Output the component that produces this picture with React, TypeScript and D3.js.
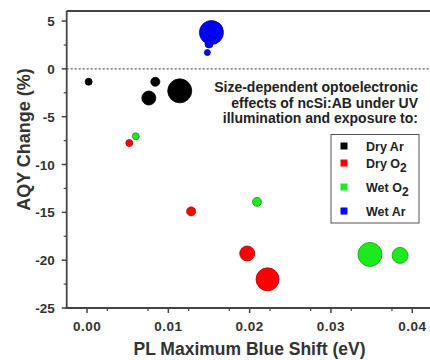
import React from "react";
import * as d3 from "d3";

// series: x = PL max blue shift (eV), y = AQY change (%), s = bubble size
const dryArX = [0.0002, 0.0084, 0.0076, 0.0114];
const dryArY = [-1.35, -1.35, -3.05, -2.3];
const dryArS = [3.5, 4.5, 7, 12];

const dryO2X = [0.0052, 0.0128, 0.0197, 0.0222];
const dryO2Y = [-7.75, -14.9, -19.3, -22.0];
const dryO2S = [3.5, 4.5, 7.5, 11.5];

const wetO2X = [0.006, 0.0209, 0.0348, 0.0385];
const wetO2Y = [-7.05, -13.9, -19.4, -19.5];
const wetO2S = [3.5, 4.5, 12, 8];

const wetArX = [0.0153, 0.0157, 0.015, 0.0148];
const wetArY = [3.8, 4.05, 2.6, 1.7];
const wetArS = [12, 8, 4, 3];

const legendNames = ["Dry Ar", "Dry O", "Wet O", "Wet Ar"];
const legendSubs = ["", "2", "2", ""];
const seriesColors = ["#000000", "#ff0000", "#1ee81e", "#0000ff"];
const seriesStroke = ["#000000", "#b00000", "#10a010", "#0000a0"];

const xTicks = [0, 0.01, 0.02, 0.03, 0.04];
const yTicks = [5, 0, -5, -10, -15, -20, -25];
const noteLines = [
  "Size-dependent optoelectronic",
  "effects of ncSi:AB under UV",
  "illumination and exposure to:",
];

const FONT = "'Liberation Sans', Arial, sans-serif";

export default function App() {
  const width = 430;
  const height = 360;

  const x = d3.scaleLinear().domain([-0.0025, 0.0425]).range([66.7, 432.6]);
  const y = d3.scaleLinear().domain([-25, 6.05]).range([308, 11]);
  const r = d3.scaleLinear().domain([0, 12]).range([0, 12]);

  const series = [
    { xs: dryArX, ys: dryArY, ss: dryArS },
    { xs: dryO2X, ys: dryO2Y, ss: dryO2S },
    { xs: wetO2X, ys: wetO2Y, ss: wetO2S },
    { xs: wetArX, ys: wetArY, ss: wetArS },
  ];

  const xMinor = d3.range(-0.0025, 0.0426, 0.005).map((v) => +v.toFixed(4));
  const xMinorOnly = xMinor.filter((v) => !xTicks.some((t) => Math.abs(t - v) < 1e-6) && v > -0.002);
  const yMinor = d3.range(-22.5, 6, 5);

  const [x0, x1] = x.range();
  const [y0, y1] = y.range();
  const axisColor = "#444";

  // legend rows
  const legendRowY = [146, 163, 187, 211];

  return (
    <div style={{ position: "absolute", left: 0, top: 0 }}>
      <svg width={width} height={height} style={{ display: "block", background: "#fff" }}>
        {/* zero reference line */}
        <line x1={x0} x2={width} y1={y(0)} y2={y(0)} stroke="#555" strokeWidth={1.2} strokeDasharray="2,2" />

        {/* bubbles */}
        {series.map((s, i) =>
          s.xs.map((xv, j) => (
            <circle
              key={`${i}-${j}`}
              cx={x(xv)}
              cy={y(s.ys[j])}
              r={r(s.ss[j])}
              fill={seriesColors[i]}
              stroke={seriesStroke[i]}
              strokeWidth={0.8}
            />
          ))
        )}

        {/* frame */}
        <line x1={x0} x2={width} y1={y1} y2={y1} stroke={axisColor} strokeWidth={1.8} />
        <line x1={x0} x2={x0} y1={y1} y2={y0 + 1} stroke={axisColor} strokeWidth={1.8} />
        <line x1={x0 - 1} x2={width} y1={y0} y2={y0} stroke={axisColor} strokeWidth={1.8} />

        {/* x ticks */}
        {xTicks.map((t) => (
          <g key={`xt${t}`}>
            <line x1={x(t)} x2={x(t)} y1={y0} y2={y0 + 5} stroke={axisColor} strokeWidth={1.5} />
            <text
              x={x(t)}
              y={y0 + 22.5}
              textAnchor="middle"
              fontFamily={FONT}
              fontWeight="bold"
              fontSize={13.5}
              letterSpacing={0.5}
              fill="#333"
            >
              {t.toFixed(2)}
            </text>
          </g>
        ))}
        {xMinorOnly.map((t) => (
          <line key={`xm${t}`} x1={x(t)} x2={x(t)} y1={y0} y2={y0 + 3} stroke={axisColor} strokeWidth={1.2} />
        ))}

        {/* y ticks */}
        {yTicks.map((t) => (
          <g key={`yt${t}`}>
            <line x1={x0} x2={x0 - 5} y1={y(t)} y2={y(t)} stroke={axisColor} strokeWidth={1.5} />
            <text
              x={x0 - 12}
              y={y(t) + 5}
              textAnchor="end"
              fontFamily={FONT}
              fontWeight="bold"
              fontSize={13.5}
              fill="#333"
            >
              {t}
            </text>
          </g>
        ))}
        {yMinor.map((t) => (
          <line key={`ym${t}`} x1={x0} x2={x0 - 3} y1={y(t)} y2={y(t)} stroke={axisColor} strokeWidth={1.2} />
        ))}

        {/* axis titles */}
        <text
          x={249.5}
          y={355}
          textAnchor="middle"
          fontFamily={FONT}
          fontWeight="bold"
          fontSize={17.5}
          fill="#333"
        >
          PL Maximum Blue Shift (eV)
        </text>
        <text
          transform={`translate(30,139.5) rotate(-90)`}
          textAnchor="middle"
          fontFamily={FONT}
          fontWeight="bold"
          fontSize={18}
          fill="#333"
        >
          AQY Change (%)
        </text>

        {/* annotation */}
        {noteLines.map((line, i) => (
          <text
            key={line}
            x={418}
            y={92 + i * 15.5}
            textAnchor="end"
            fontFamily={FONT}
            fontWeight="bold"
            fontSize={14}
            fill="#222"
          >
            {line}
          </text>
        ))}

        {/* legend */}
        <rect x={331} y={134.5} width={88} height={88.5} fill="#fff" stroke="#555" strokeWidth={1} />
        {legendNames.map((name, i) => (
          <g key={name + i}>
            <rect x={340.5} y={legendRowY[i] - 3.5} width={7} height={7} fill={seriesColors[i]} />
            <text
              x={366}
              y={legendRowY[i] + 4.5}
              fontFamily={FONT}
              fontWeight="bold"
              fontSize={12.5}
              fill="#222"
            >
              {name}
              {legendSubs[i] && (
                <tspan dy={4} fontSize={12}>
                  {legendSubs[i]}
                </tspan>
              )}
            </text>
          </g>
        ))}
      </svg>
    </div>
  );
}
